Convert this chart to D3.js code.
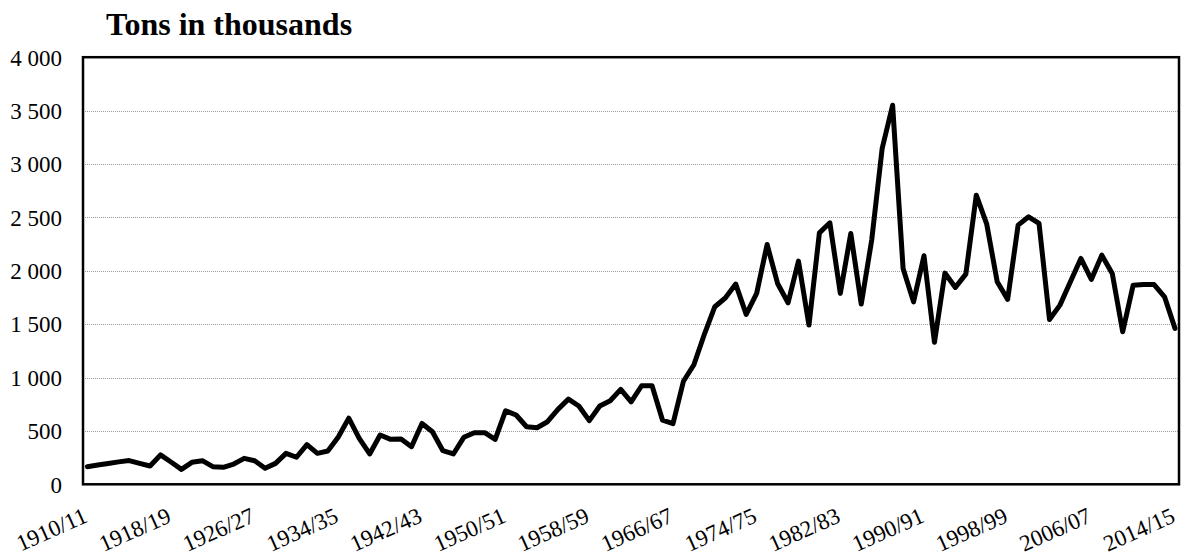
<!DOCTYPE html>
<html>
<head>
<meta charset="utf-8">
<script src="https://cdn.jsdelivr.net/npm/d3@7"></script>
<style>
  html, body { margin: 0; padding: 0; background: #fff; }
  svg { display: block; }
  text { font-family: "Liberation Serif", "Times New Roman", serif; fill: #000; }
</style>
</head>
<body>
<svg id="chart" width="1182" height="558"></svg>
<script>
// ---- data ----
const startYear = 1910;
const values = [
  165, 180, 195, 210, 222, 196, 171, 275, 209, 140,
  206, 221, 165, 159, 190, 243, 221, 150, 196, 290,
  253, 372, 290, 312, 443, 620, 430, 284, 462, 421,
  424, 352, 570, 492, 315, 284, 440, 483, 483, 421,
  689, 649, 539, 530, 586, 702, 798, 733, 596, 733,
  783, 889, 773, 923, 923, 600, 568, 965, 1120, 1405,
  1663, 1745, 1875, 1592, 1788, 2246, 1881, 1700, 2090, 1491,
  2355, 2449, 1788, 2349, 1688, 2287, 3145, 3550, 2022, 1709,
  2140, 1330, 1978, 1844, 1968, 2708, 2436, 1897, 1732, 2427,
  2505, 2443, 1544, 1678, 1897, 2115, 1919, 2146, 1975, 1428,
  1865, 1871, 1871, 1756, 1460
];
const categories = values.map((v, i) => {
  const y = startYear + i;
  return y + "/" + String((y + 1) % 100).padStart(2, "0");
});
const xTickLabels = ["1910/11", "1918/19", "1926/27", "1934/35", "1942/43", "1950/51", "1958/59",
  "1966/67", "1974/75", "1982/83", "1990/91", "1998/99", "2006/07", "2014/15"];
const yTicks = [0, 500, 1000, 1500, 2000, 2500, 3000, 3500, 4000];
const title = "Tons in thousands";

// ---- layout ----
const svg = d3.select("#chart");
const box = { left: 83, right: 1179, top: 57.2, bottom: 484.3 };

const x = d3.scalePoint()
  .domain(categories)
  .range([87.3, 1175]);
const y = d3.scaleLinear()
  .domain([0, 4000])
  .range([box.bottom, box.top]);

const fmt = d3.formatLocale({ decimal: ",", thousands: "\u00a0", grouping: [3], currency: ["", ""] }).format(",d");

// gridlines
svg.append("g")
  .selectAll("line")
  .data(yTicks.filter(d => d > 0 && d < 4000))
  .join("line")
  .attr("x1", box.left)
  .attr("x2", box.right)
  .attr("y1", d => Math.round(y(d)) + 0.5)
  .attr("y2", d => Math.round(y(d)) + 0.5)
  .attr("stroke", "#9a9a9a")
  .attr("stroke-width", 1)
  .attr("stroke-dasharray", "1,1");

// y axis labels
const yAxis = d3.axisLeft(y).tickValues(yTicks).tickFormat(fmt).tickSize(0).tickPadding(0);
const gy = svg.append("g").attr("transform", `translate(62,0)`).call(yAxis);
gy.attr("font-family", null).attr("font-size", null);
gy.select(".domain").remove();
gy.selectAll("text")
  .attr("font-size", 23)
  .attr("x", 0)
  .attr("dy", "0.34em");

// x axis labels
const xAxis = d3.axisBottom(x).tickValues(xTickLabels).tickSize(0).tickPadding(0);
const gx = svg.append("g").attr("transform", `translate(0,${box.bottom})`).call(xAxis);
gx.attr("font-family", null).attr("font-size", null);
gx.select(".domain").remove();
gx.selectAll("text")
  .attr("font-size", 23)
  .attr("text-anchor", "end")
  .attr("y", 0)
  .attr("dy", 0)
  .attr("transform", "translate(1,37) rotate(-24)");

// line
const line = d3.line()
  .x((d, i) => x(categories[i]))
  .y(d => y(d));
svg.append("path")
  .datum(values)
  .attr("d", line)
  .attr("fill", "none")
  .attr("stroke", "#000")
  .attr("stroke-width", 5)
  .attr("stroke-linejoin", "round")
  .attr("stroke-linecap", "round");

// frame
svg.append("rect")
  .attr("x", box.left)
  .attr("y", box.top)
  .attr("width", box.right - box.left)
  .attr("height", box.bottom - box.top)
  .attr("fill", "none")
  .attr("stroke", "#000")
  .attr("stroke-width", 2.5);

// title
svg.append("text")
  .attr("x", 106)
  .attr("y", 35)
  .attr("font-size", 32)
  .attr("font-weight", "bold")
  .text(title);
</script>
</body>
</html>
